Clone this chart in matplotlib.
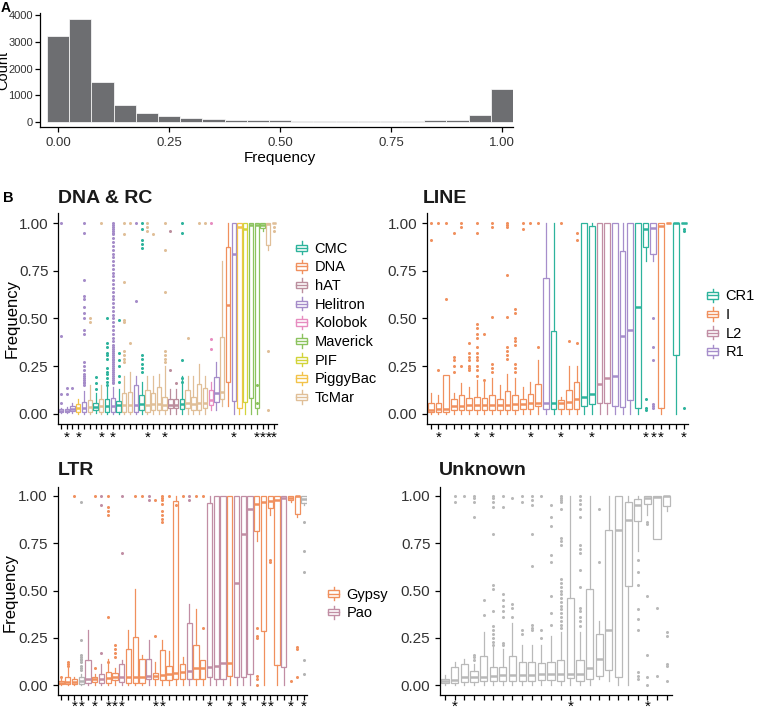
import matplotlib
matplotlib.use('Agg')
import matplotlib.pyplot as plt
from matplotlib.patches import Rectangle
from matplotlib.lines import Line2D
from matplotlib.legend_handler import HandlerBase

plt.rcParams['font.family'] = ['Liberation Sans', 'DejaVu Sans']

# ---- panel A: histogram of frequencies ----
hist_x = [0.00, 0.05, 0.10, 0.15, 0.20, 0.25, 0.30, 0.35, 0.40, 0.45, 0.50,
          0.55, 0.60, 0.65, 0.70, 0.75, 0.80, 0.85, 0.90, 0.95, 1.00]
hist_count = [3200, 3850, 1480, 640, 330, 210, 140, 100, 75, 60, 60,
              50, 55, 50, 50, 50, 50, 60, 90, 260, 1230]

# ---- panel B: DNA & RC ----
dna_class = ['Helitron', 'Helitron', 'Helitron', 'PiggyBac', 'Helitron', 'TcMar', 'CMC', 'TcMar',
             'CMC', 'Helitron', 'CMC', 'TcMar', 'TcMar', 'Helitron', 'CMC', 'TcMar', 'TcMar',
             'TcMar', 'TcMar', 'hAT', 'hAT', 'CMC', 'TcMar', 'TcMar', 'TcMar', 'TcMar', 'Kolobok',
             'Helitron', 'TcMar', 'DNA', 'Helitron', 'PiggyBac', 'PIF', 'Maverick', 'Maverick',
             'Maverick', 'TcMar', 'TcMar']
dna_lo = [0.005, 0.005, 0.005, 0.0, 0.0, 0.0, 0.005, 0.0, 0.0, 0.0, 0.0, 0.0, 0.0, 0.0, 0.0, 0.0,
          0.0, 0.0, 0.0, 0.0, 0.0, 0.0, 0.0, 0.0, 0.0, 0.0, 0.02, 0.02, 0.04, 0.04, 0.0, 0.0, 0.0,
          0.0, 0.0, 0.96, 0.86, 1.0]
dna_q1 = [0.012, 0.012, 0.016, 0.012, 0.012, 0.012, 0.021, 0.012, 0.012, 0.012, 0.012, 0.012,
          0.012, 0.012, 0.021, 0.012, 0.02, 0.02, 0.021, 0.03, 0.03, 0.024, 0.03, 0.02, 0.02,
          0.03, 0.047, 0.065, 0.08, 0.165, 0.07, 0.03, 0.065, 0.085, 0.03, 0.975, 0.885, 1.0]
dna_med = [0.017, 0.017, 0.025, 0.03, 0.033, 0.035, 0.035, 0.04, 0.04, 0.04, 0.045, 0.045,
           0.045, 0.045, 0.05, 0.045, 0.05, 0.05, 0.045, 0.045, 0.045, 0.05, 0.06, 0.05, 0.06,
           0.06, 0.075, 0.11, 0.115, 0.57, 0.84, 0.98, 0.97, 0.99, 0.99, 0.99, 0.995, 1.0]
dna_q3 = [0.024, 0.024, 0.042, 0.05, 0.065, 0.073, 0.06, 0.08, 0.077, 0.082, 0.07, 0.108,
          0.117, 0.152, 0.1, 0.126, 0.11, 0.14, 0.09, 0.08, 0.077, 0.08, 0.126, 0.09, 0.157,
          0.134, 0.126, 0.195, 0.405, 0.875, 1.0, 1.0, 1.0, 1.0, 1.0, 1.0, 1.0, 1.0]
dna_hi = [0.03, 0.035, 0.06, 0.08, 0.12, 0.15, 0.11, 0.15, 0.14, 0.14, 0.13, 0.2, 0.22, 0.2,
          0.17, 0.2, 0.2, 0.21, 0.25, 0.13, 0.13, 0.2, 0.2, 0.2, 0.26, 0.2, 0.17, 0.27, 0.8, 1.0,
          1.0, 1.0, 1.0, 1.0, 1.0, 1.0, 1.0, 1.0]
dna_out = [
    [1.0, 0.41, 0.105, 0.06],
    [0.134, 0.105],
    [0.134],
    [],
    [1.0, 0.95, 0.70, 0.62, 0.60, 0.56, 0.53, 0.50, 0.44, 0.42, 0.27, 0.25, 0.23, 0.21, 0.2,
     0.19, 0.18, 0.17, 0.16, 0.15],
    [0.50, 0.48],
    [0.195, 0.16, 0.13],
    [1.0],
    [0.50, 0.37, 0.35, 0.32, 0.31, 0.29, 0.24, 0.22, 0.21, 0.19, 0.17, 0.15],
    [1.0, 0.99, 0.98, 0.97, 0.96, 0.95, 0.94, 0.92, 0.9, 0.88, 0.86, 0.84, 0.82, 0.8, 0.78,
     0.76, 0.74, 0.72, 0.7, 0.68, 0.66, 0.64, 0.62, 0.6, 0.58, 0.56, 0.54, 0.52, 0.5, 0.48,
     0.46, 0.44, 0.42, 0.4, 0.38, 0.36, 0.35, 0.34, 0.33, 0.32, 0.31, 0.3, 0.29, 0.28, 0.27,
     0.26, 0.25, 0.24, 0.23, 0.22, 0.21, 0.2, 0.19, 0.18, 0.17, 0.16],
    [0.49, 0.32, 0.28, 0.25, 0.2, 0.17],
    [1.0, 0.94, 0.69, 0.49, 0.48, 0.33, 0.31, 0.29, 0.27],
    [1.0, 0.37],
    [1.0, 0.59],
    [1.0, 0.97, 0.91, 0.89, 0.87, 0.31, 0.29, 0.26, 0.24, 0.22],
    [1.0, 0.98, 0.96],
    [0.94],
    [],
    [1.0, 0.86, 0.64, 0.33, 0.31, 0.29, 0.27],
    [0.96, 0.23],
    [0.16],
    [1.0, 0.95, 0.28, 0.19, 0.17],
    [0.40],
    [],
    [1.0],
    [1.0],
    [1.0, 0.39, 0.34],
    [], [], [], [], [], [], [],
    [0.15, 0.06],
    [],
    [0.33, 0.02],
    [0.98, 0.96],
]
dna_star = [1, 3, 7, 9, 15, 18, 30, 34, 35, 36, 37]
dna_legend = ['CMC', 'DNA', 'hAT', 'Helitron', 'Kolobok', 'Maverick', 'PIF', 'PiggyBac', 'TcMar']

# ---- panel B: LINE ----
line_class = ['I'] * 15 + ['R1', 'CR1', 'I', 'I', 'I', 'CR1', 'CR1', 'L2', 'L2', 'R1', 'R1',
                           'R1', 'CR1', 'CR1', 'R1', 'I', 'I', 'CR1', 'CR1']
line_lo = [0.0] * 28 + [0.8, 0.8, 0.0, 1.0, 0.0, 1.0]
line_q1 = [0.012, 0.012, 0.012, 0.02, 0.02, 0.02, 0.02, 0.02, 0.02, 0.02, 0.02, 0.02, 0.025,
           0.025, 0.04, 0.025, 0.025, 0.025, 0.025, 0.025, 0.04, 0.05, 0.055, 0.055, 0.04,
           0.035, 0.075, 0.03, 0.875, 0.84, 0.03, 1.0, 0.31, 1.0]
line_med = [0.02, 0.025, 0.025, 0.04, 0.04, 0.045, 0.045, 0.045, 0.045, 0.045, 0.045, 0.05,
            0.05, 0.06, 0.06, 0.06, 0.06, 0.06, 0.065, 0.08, 0.09, 0.105, 0.155, 0.19, 0.2,
            0.41, 0.44, 0.56, 0.97, 0.975, 0.985, 1.0, 1.0, 1.0]
line_q3 = [0.06, 0.055, 0.205, 0.077, 0.1, 0.085, 0.09, 0.085, 0.1, 0.077, 0.122, 0.1, 0.077,
           0.105, 0.157, 0.71, 0.435, 0.075, 0.125, 0.165, 1.0, 0.985, 1.0, 1.0, 1.0, 0.855,
           1.0, 1.0, 1.0, 1.0, 1.0, 1.0, 1.0, 1.0]
line_hi = [0.11, 0.1, 0.205, 0.11, 0.16, 0.14, 0.18, 0.17, 0.19, 0.15, 0.21, 0.19, 0.14, 0.17,
           0.28, 1.0, 1.0, 0.09, 0.25, 0.25] + [1.0] * 14
line_out = [
    [1.0, 0.91],
    [1.0, 0.23],
    [1.0, 0.6],
    [0.95, 0.3, 0.28, 0.25, 0.22],
    [1.0, 0.98, 0.25],
    [0.37, 0.32, 0.3, 0.28, 0.25, 0.24, 0.23],
    [1.0, 0.95, 0.47, 0.45, 0.42, 0.40, 0.35, 0.32, 0.3, 0.28, 0.25, 0.23, 0.2],
    [0.42, 0.18],
    [1.0, 0.98, 0.51, 0.26, 0.24, 0.22],
    [],
    [1.0, 0.99, 0.98, 0.73, 0.51, 0.35, 0.33, 0.31, 0.29],
    [0.55, 0.53, 0.4, 0.38, 0.36, 0.26, 0.24, 0.22],
    [1.0, 0.97],
    [1.0],
    [1.0, 0.35],
    [], [],
    [1.0],
    [0.38],
    [0.95, 0.91, 0.37],
    [], [], [], [], [], [], [], [],
    [0.08, 0.03, 0.02],
    [0.5, 0.35, 0.28, 0.05, 0.04, 0.03],
    [], [], [],
    [0.97, 0.96, 0.03],
]
line_star = [1, 6, 8, 13, 17, 21, 28, 29, 30, 33]
line_legend = ['CR1', 'I', 'L2', 'R1']

# ---- panel B: LTR ----
ltr_class = ['Gypsy', 'Gypsy', 'Gypsy', 'Other', 'Pao', 'Gypsy', 'Pao', 'Gypsy', 'Gypsy', 'Pao',
             'Gypsy', 'Gypsy', 'Gypsy', 'Pao', 'Gypsy', 'Gypsy', 'Gypsy', 'Gypsy', 'Gypsy', 'Pao',
             'Gypsy', 'Gypsy', 'Pao', 'Pao', 'Pao', 'Gypsy', 'Pao', 'Pao', 'Pao', 'Gypsy',
             'Gypsy', 'Gypsy', 'Gypsy', 'Pao', 'Gypsy', 'Gypsy', 'Other']
ltr_lo = [0.0] * 29 + [0.76, 0.0, 0.9, 0.0, 0.0, 0.97, 0.89, 0.95]
ltr_q1 = [0.005, 0.005, 0.008, 0.008, 0.01, 0.015, 0.01, 0.01, 0.025, 0.015, 0.01, 0.01, 0.01,
          0.03, 0.03, 0.025, 0.025, 0.03, 0.03, 0.03, 0.03, 0.03, 0.04, 0.03, 0.03, 0.05,
          0.04, 0.045, 0.06, 0.815, 0.285, 0.935, 0.105, 0.095, 0.98, 0.905, 0.965]
ltr_med = [0.01, 0.015, 0.015, 0.02, 0.03, 0.03, 0.03, 0.035, 0.04, 0.04, 0.04, 0.04, 0.04,
           0.05, 0.05, 0.055, 0.06, 0.065, 0.07, 0.075, 0.09, 0.09, 0.095, 0.10, 0.115, 0.115,
           0.54, 0.80, 0.93, 0.96, 0.97, 0.975, 0.98, 0.99, 0.99, 1.0, 0.985]
ltr_q3 = [0.02, 0.045, 0.03, 0.04, 0.13, 0.04, 0.06, 0.07, 0.065, 0.11, 0.19, 0.255, 0.14,
          0.14, 0.065, 0.185, 0.1, 0.975, 0.11, 0.33, 0.21, 0.13, 0.965] + [1.0] * 14
ltr_hi = [0.03, 0.09, 0.04, 0.06, 0.29, 0.06, 0.11, 0.14, 0.09, 0.13, 0.29, 0.51, 0.16, 0.24,
          0.12, 0.24, 0.18, 1.0, 0.15, 0.43, 0.4, 0.13] + [1.0] * 15
ltr_out = [
    [0.04],
    [0.12, 0.11, 0.10],
    [1.0],
    [0.97, 0.24, 0.16, 0.15, 0.14, 0.13, 0.12, 0.1, 0.09, 0.08],
    [],
    [1.0, 0.09],
    [1.0, 0.95, 0.17],
    [1.0, 0.94, 0.92, 0.9, 0.36, 0.12],
    [0.21, 0.19, 0.17, 0.15],
    [1.0, 0.70],
    [],
    [1.0],
    [1.0],
    [1.0, 0.98],
    [0.98, 0.26],
    [1.0, 0.99, 0.98, 0.96, 0.92, 0.9, 0.88, 0.86],
    [1.0],
    [0.95],
    [1.0],
    [1.0, 0.98],
    [1.0],
    [1.0, 0.3],
    [], [], [], [], [], [], [],
    [0.3, 0.26, 0.25, 0.05, 0.03, 0.0],
    [],
    [0.66, 0.65],
    [], [],
    [0.02],
    [0.2, 0.19, 0.04],
    [0.86, 0.71, 0.6, 0.13, 0.06],
]
ltr_star = [2, 3, 5, 7, 8, 9, 14, 15, 22, 25, 27, 30, 31, 34, 36]
ltr_legend = ['Gypsy', 'Pao']

# ---- panel B: Unknown ----
unk_lo = [0.0] * 16 + [0.03, 0.02, 0.0, 0.0, 0.71, 0.9, 0.77, 0.92]
unk_q1 = [0.01, 0.01, 0.018, 0.015, 0.023, 0.023, 0.023, 0.023, 0.023, 0.023, 0.028, 0.028,
          0.023, 0.035, 0.023, 0.03, 0.05, 0.08, 0.045, 0.525, 0.865, 0.955, 0.775, 0.945]
unk_med = [0.02, 0.025, 0.04, 0.04, 0.045, 0.05, 0.055, 0.055, 0.055, 0.055, 0.057, 0.057,
           0.06, 0.06, 0.06, 0.09, 0.14, 0.29, 0.82, 0.875, 0.95, 0.99, 0.995, 1.0]
unk_q3 = [0.03, 0.093, 0.11, 0.072, 0.155, 0.095, 0.095, 0.155, 0.12, 0.12, 0.115, 0.12, 0.135,
          0.46, 0.13, 0.51, 0.27, 0.82, 1.0, 0.97, 0.985, 1.0, 1.0, 1.0]
unk_hi = [0.055, 0.12, 0.14, 0.11, 0.28, 0.2, 0.19, 0.33, 0.21, 0.21, 0.21, 0.26, 0.28, 1.0,
          0.28, 1.0, 0.34, 1.0, 1.0, 1.0, 1.0, 1.0, 1.0, 1.0]
unk_out = [
    [],
    [1.0, 0.97],
    [1.0],
    [1.0, 0.99, 0.97, 0.89, 0.16, 0.15, 0.13],
    [0.45, 0.37],
    [1.0, 0.99, 0.97, 0.94, 0.8, 0.53, 0.51, 0.39, 0.31, 0.29, 0.27, 0.25, 0.23, 0.21],
    [1.0, 0.94, 0.48, 0.45, 0.42, 0.39, 0.36, 0.22, 0.21],
    [0.99, 0.43, 0.41, 0.36],
    [1.0, 0.97, 0.29, 0.27],
    [1.0, 0.98, 0.95, 0.80, 0.63, 0.32, 0.3, 0.29],
    [1.0, 0.29, 0.25],
    [0.95, 0.89, 0.84, 0.69, 0.65, 0.47, 0.38, 0.32],
    [1.0, 0.99, 0.98, 0.97, 0.93, 0.78, 0.76, 0.74, 0.56, 0.54, 0.52, 0.5, 0.48, 0.46, 0.44,
     0.42, 0.4, 0.38, 0.36, 0.34, 0.32, 0.3],
    [],
    [1.0, 0.98, 0.96, 0.93, 0.89, 0.74, 0.72, 0.7, 0.61, 0.52, 0.41, 0.39, 0.36, 0.34, 0.31],
    [],
    [0.93, 0.65],
    [], [], [],
    [0.66, 0.6, 0.53, 0.4, 0.35, 0.29, 0.07, 0.05, 0.03],
    [0.86, 0.85, 0.47, 0.16, 0.04, 0.0],
    [0.41, 0.05],
    [0.28, 0.26, 0.11, 0.1, 0.02],
]
unk_class = ['Unknown'] * len(unk_med)
unk_star = [1, 13, 21]

colors = {
    'CMC': '#2db39c', 'DNA': '#f0905e', 'hAT': '#bb8e9d', 'Helitron': '#a58cc9',
    'Kolobok': '#e78cc0', 'Maverick': '#8cc35f', 'PIF': '#d2d43a', 'PiggyBac': '#f3c34a',
    'TcMar': '#e0bf98',
    'CR1': '#2db39c', 'I': '#f0905e', 'L2': '#c18ea4', 'R1': '#a68ecb',
    'Gypsy': '#f0905e', 'Pao': '#c18ea4', 'Other': '#b4b4b4',
    'Unknown': '#b9b9b9',
}

W, H = 760, 710
fig = plt.figure(figsize=(W / 100, H / 100), dpi=100)


def px_axes(l, r, t, b):
    return fig.add_axes([l / W, 1 - b / H, (r - l) / W, (b - t) / H])


def classic(ax, size=11):
    for s in ['top', 'right']:
        ax.spines[s].set_visible(False)
    for s in ['left', 'bottom']:
        ax.spines[s].set_linewidth(0.9)
        ax.spines[s].set_color('black')
    ax.tick_params(length=3.5, width=0.9, color='black', labelcolor='#333333', labelsize=size)


class BoxKey(HandlerBase):
    def create_artists(self, legend, orig_handle, xdescent, ydescent, width, height, fontsize, trans):
        c = orig_handle.get_edgecolor()
        x0, y0 = -xdescent, -ydescent
        cx = x0 + width / 2
        whisk = Line2D([cx, cx], [y0 - 1, y0 + height + 1], color=c, lw=1.0, transform=trans)
        box = Rectangle((x0 + width * 0.05, y0 + height * 0.2), width * 0.9, height * 0.6,
                        facecolor='white', edgecolor=c, lw=1.0, transform=trans)
        med = Line2D([x0 + width * 0.05, x0 + width * 0.95], [y0 + height / 2] * 2, color=c,
                     lw=1.0, transform=trans)
        return [whisk, box, med]


def draw_panel(ax, cls, lo, q1, med, q3, hi, out, stars, star_off=-14):
    n = len(cls)
    stats = [dict(whislo=lo[i], q1=q1[i], med=med[i], q3=q3[i], whishi=hi[i], fliers=out[i])
             for i in range(n)]
    art = ax.bxp(stats, positions=list(range(n)), widths=0.75, patch_artist=True,
                 showcaps=False, manage_ticks=False)
    for i, c in enumerate(cls):
        col = colors[c]
        art['boxes'][i].set(facecolor='white', edgecolor=col, linewidth=0.9)
        art['medians'][i].set(color=col, linewidth=1.8)
        art['whiskers'][2 * i].set(color=col, linewidth=0.9)
        art['whiskers'][2 * i + 1].set(color=col, linewidth=0.9)
        art['fliers'][i].set(marker='o', markerfacecolor=col, markeredgewidth=0,
                             markersize=2.2, linestyle='none')
    ax.set_xlim(-0.5, n - 0.5)
    ax.set_ylim(-0.05, 1.05)
    ax.set_xticks(range(n))
    ax.set_xticklabels([])
    ax.set_yticks([0, 0.25, 0.5, 0.75, 1.0])
    ax.set_yticklabels(['0.00', '0.25', '0.50', '0.75', '1.00'])
    classic(ax)
    for i in stars:
        ax.annotate('*', xy=(i, 0), xycoords=('data', 'axes fraction'), xytext=(0, star_off),
                    textcoords='offset pixels', ha='center', va='center', fontsize=11,
                    annotation_clip=False)


def add_legend(names, x, y):
    handles = [Rectangle((0, 0), 1, 1, edgecolor=colors[k], facecolor='white') for k in names]
    fig.legend(handles, names, handler_map={Rectangle: BoxKey()}, loc='center left',
               bbox_to_anchor=(x / W, 1 - y / H), frameon=False, fontsize=10.5,
               handlelength=0.9, handleheight=0.75, labelspacing=0.32, handletextpad=0.45,
               borderpad=0, borderaxespad=0)


# panel A
axA = px_axes(40, 513, 13, 127)
axA.bar(hist_x, hist_count, width=0.05, color='#6d6e71', edgecolor='white', linewidth=0.5)
axA.set_xlim(-0.041, 1.025)
axA.set_ylim(-187, 4075)
axA.set_xticks([0, 0.25, 0.5, 0.75, 1.0])
axA.set_xticklabels(['0.00', '0.25', '0.50', '0.75', '1.00'])
axA.set_yticks([0, 1000, 2000, 3000, 4000])
classic(axA, size=9.5)
axA.tick_params(axis='y', labelsize=8, pad=1.5)
fig.text(3.5 / W, 1 - 70 / H, 'Count', rotation=90, ha='center', va='center', fontsize=10.5)
fig.text(280 / W, 1 - 158 / H, 'Frequency', ha='center', va='center', fontsize=11)
fig.text(1 / W, 1 - 12 / H, 'A', fontsize=10, fontweight='bold', va='baseline')
fig.text(3 / W, 1 - 202 / H, 'B', fontsize=10.5, fontweight='bold', va='baseline')

# panel B
ax1 = px_axes(58.1, 276.9, 213.5, 423.5)
draw_panel(ax1, dna_class, dna_lo, dna_q1, dna_med, dna_q3, dna_hi, dna_out, dna_star)
ax2 = px_axes(426.9, 687.8, 213.5, 423.5)
draw_panel(ax2, line_class, line_lo, line_q1, line_med, line_q3, line_hi, line_out, line_star)
ax3 = px_axes(57.6, 307.4, 486.5, 694.5)
draw_panel(ax3, ltr_class, ltr_lo, ltr_q1, ltr_med, ltr_q3, ltr_hi, ltr_out, ltr_star, -12)
ax4 = px_axes(440.2, 671.5, 486.5, 694.5)
draw_panel(ax4, unk_class, unk_lo, unk_q1, unk_med, unk_q3, unk_hi, unk_out, unk_star, -12)

for x, y, t in [(58, 203, 'DNA & RC'), (423, 203, 'LINE'), (58, 475, 'LTR'), (439, 475, 'Unknown')]:
    fig.text(x / W, 1 - y / H, t, fontsize=14, fontweight='bold', va='baseline', color='#1a1a1a')

fig.text(12 / W, 1 - 318 / H, 'Frequency', rotation=90, ha='center', va='center', fontsize=12)
fig.text(10 / W, 1 - 592 / H, 'Frequency', rotation=90, ha='center', va='center', fontsize=12)

add_legend(dna_legend, 295, 323.5)
add_legend(line_legend, 706, 324.5)
add_legend(ltr_legend, 327, 604)

fig.savefig('out.png', dpi=100)
